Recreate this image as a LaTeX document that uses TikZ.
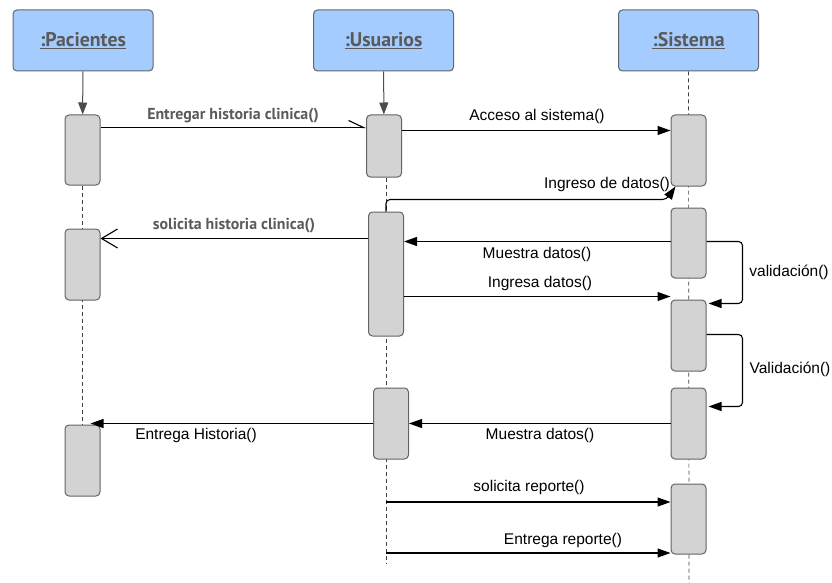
\documentclass[tikz,border=0pt]{standalone}
\usepackage{fontspec}
\setmainfont{Liberation Sans}
\newfontfamily\ptsans{PT Sans}
\usepackage{tikz}
\usetikzlibrary{positioning,calc,arrows.meta,backgrounds}
\definecolor{hdrblue}{RGB}{164,204,254}
\definecolor{hdrline}{RGB}{94,102,112}
\definecolor{boxgray}{RGB}{211,211,211}
\definecolor{boxline}{RGB}{100,100,100}
\definecolor{txtgray}{RGB}{90,90,90}

\begin{document}
\begin{tikzpicture}[x=1pt,y=-1pt,
  every node/.style={inner sep=0pt,font=\fontsize{15.5}{18}\selectfont},
  actor/.style={draw=hdrline,fill=hdrblue,rounded corners=4pt,line width=1pt,minimum width=140pt,minimum height=61pt,text=txtgray,font=\ptsans\bfseries\fontsize{19.8}{22}\selectfont},
  actbox/.style={draw=boxline,fill=boxgray,rounded corners=4pt,line width=1pt,minimum width=35pt},
  lifeline/.style={draw=black!75,line width=0.7pt,dash pattern=on 4pt off 3pt},
  hdrarrow/.style={draw=black!70,line width=1pt,-{Triangle[length=12pt,width=9pt]}},
  msg/.style={line width=1.1pt,-{Triangle[length=13pt,width=9pt]}},
  boldlbl/.style={text=txtgray,font=\ptsans\bfseries\fontsize{15.9}{18}\selectfont}
]
  \useasboundingbox (0,0) rectangle (832,583);

  \node (pac) at (83,40.5) [actor] {\underline{:Pacientes}};
  \node (usu) at (383.5,40.5) [actor] {\underline{:Usuarios}};
  \node (sis) at (688.5,40.5) [actor] {\underline{:Sistema}};

  \node (p1) at (82.5,150) [actbox,minimum height=70pt] {};
  \node (p2) at (82.5,264.5) [actbox,minimum height=71pt] {};
  \node (p3) at (82.5,460.5) [actbox,minimum height=71pt] {};

  \node (u1) at (384,146) [actbox,minimum height=62pt] {};
  \node (u2) at (386,274) [actbox,minimum height=124pt] {};
  \node (u3) at (391,423.5) [actbox,minimum height=71pt] {};

  \node (s1) at (688.5,150.5) [actbox,minimum height=71pt] {};
  \node (s2) at (688.5,243) [actbox,minimum height=70pt] {};
  \node (s3) at (688.5,335.5) [actbox,minimum height=71pt] {};
  \node (s4) at (688.5,423.5) [actbox,minimum height=71pt] {};
  \node (s5) at (688.5,519) [actbox,minimum height=70pt] {};

  \coordinate (uend) at (386,563);
  \coordinate (send) at (689,583);
  \begin{scope}[on background layer]
    \draw[lifeline] (p1) -- (p3);
    \draw[lifeline] (uend |- u1.south) -- (uend);
    \draw[lifeline] (sis.south) -- (send);
  \end{scope}

  \draw[hdrarrow] (pac) -- (p1);
  \draw[hdrarrow] (usu) -- (u1);

  \draw[msg,-{Straight Barb[left,length=15pt,width=14pt]}] ($(p1.north east)+(0,13)$) -- ($(u1.north west)+(0,13)$);
  \draw[msg] ($(u1.north east)+(0,16)$) -- ($(s1.north west)+(0,16)$);
  \draw[msg,rounded corners=4pt] (u2.north) |- ($(s1.south west)+(-4,13)$) -- ($(s1.south west)+(5,0)$);
  \draw[msg,-{Straight Barb[length=16pt,width=19pt]}] ($(u2.north west)+(0,27)$) -- ($(p2.north east)+(0,10)$);
  \draw[msg] ($(s2.north west)+(0,34)$) -- ($(u2.north east)+(0,30)$);
  \draw[msg,rounded corners=4pt] ($(s2.north east)+(0,34)$) -- ++(36,0) |- ($(s3.north east)+(2,4)$);
  \draw[msg] ($(u2.north east)+(0,85)$) -- ($(s3.north west)+(0,-3)$);
  \draw[msg,rounded corners=4pt] ($(s3.north east)+(0,35)$) -- ++(36,0) |- ($(s4.north east)+(2,19)$);
  \draw[msg] ($(s4.north west)+(0,36)$) -- ($(u3.north east)+(0,36)$);
  \draw[msg] ($(u3.north west)+(0,36)$) -- ($(p3.north east)+(-10,-1)$);
  \coordinate (r1) at (386,502);
  \coordinate (r2) at (386,553);
  \draw[msg] (r1) -- (r1 -| s5.west);
  \draw[msg] (r2) -- (r2 -| s5.west);

  \node (l1) at (233,116) [boldlbl] {Entregar historia clinica()};
  \node (l2) at (537,116) {Acceso al sistema()};
  \node (l3) at (607,184) {Ingreso de datos()};
  \node (l4) at (234,226) [boldlbl] {solicita historia clinica()};
  \node (l5) at (537,254) {Muestra datos()};
  \node (l6) at (789,272) {validación()};
  \node (l7) at (540,283) {Ingresa datos()};
  \node (l8) at (790,369) {Validación()};
  \node (l9) at (540,435) {Muestra datos()};
  \node (l10) at (196,435) {Entrega Historia()};
  \node (l11) at (529,487) {solicita reporte()};
  \node (l12) at (563,540) {Entrega reporte()};
\end{tikzpicture}
\end{document}
